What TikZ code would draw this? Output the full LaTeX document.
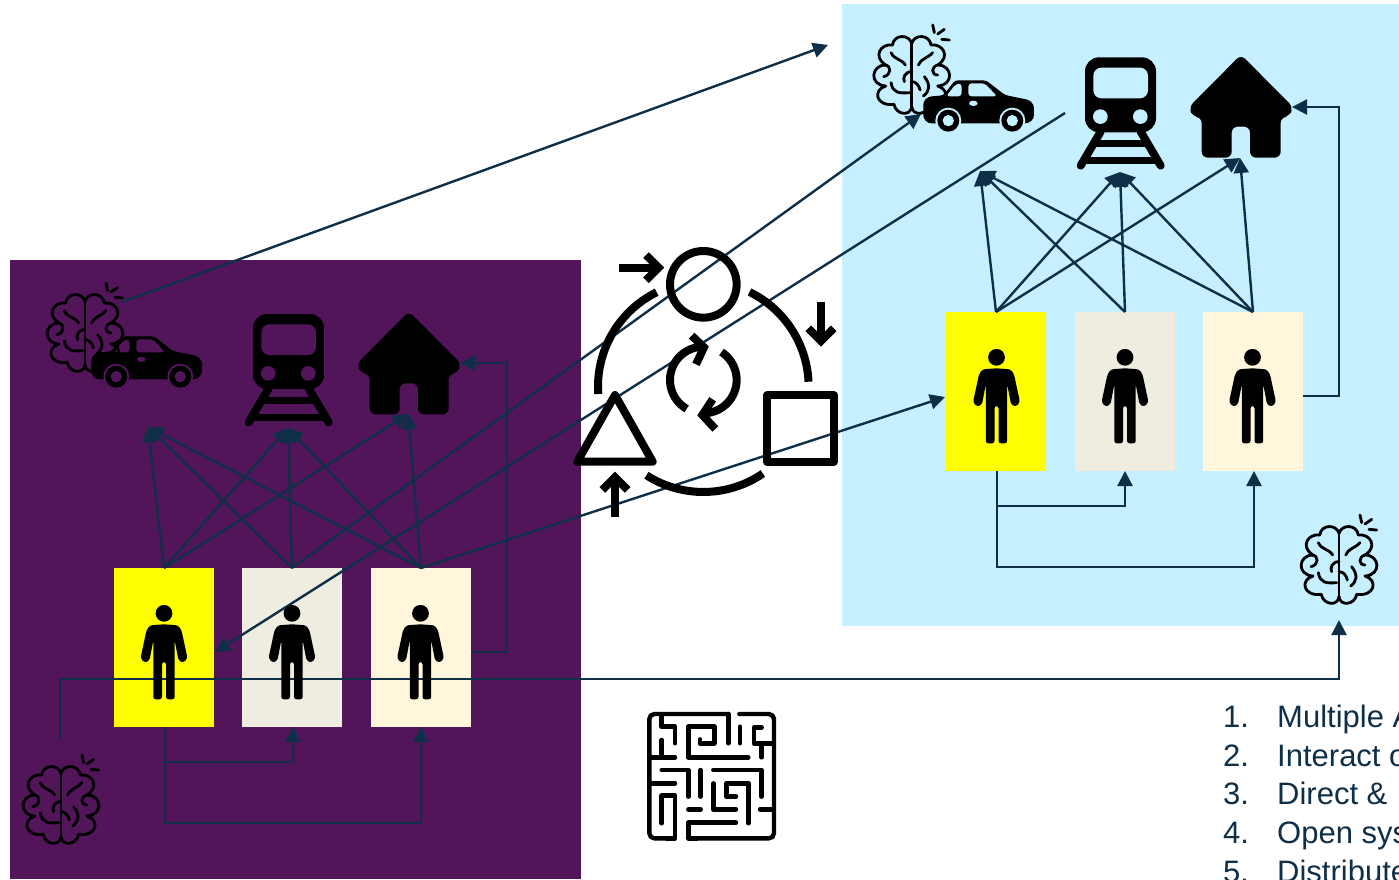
\documentclass[tikz,border=0pt]{standalone}
\usepackage{fontspec}
\setmainfont{Liberation Sans}
\usetikzlibrary{arrows.meta}
\definecolor{inkc}{HTML}{0E2F47}
\definecolor{txtc}{HTML}{0E2F47}
\definecolor{purp}{HTML}{52155A}
\definecolor{sky}{HTML}{C6EFFF}
\definecolor{yelc}{RGB}{255,255,0}
\definecolor{beigec}{HTML}{EFEDE0}
\definecolor{creamc}{HTML}{FFF6DC}
\colorlet{bgc}{sky}
\tikzset{
 conn/.style={draw=inkc,line width=2.4pt},
 arr/.style={conn,-{Triangle[width=15pt,length=15pt]}},
 tile/.style={minimum width=100pt,minimum height=159pt,inner sep=0pt,outer sep=0pt},
 lbl/.style={anchor=base west,inner sep=0pt,text=txtc,font=\fontsize{31}{38}\selectfont},
 brain/.pic={
  \begin{scope}[x=.3333pt,y=-.3333pt,line width=2.8pt,line cap=round,line join=round]
   \foreach \s in {1,-1}{
   \begin{scope}[xscale=\s]
    \draw (0,-80) .. controls (8,-108) and (53,-108) .. (58,-75)
      .. controls (93,-80) and (118,-40) .. (78,-15)
      .. controls (123,-15) and (128,45) .. (78,48)
      .. controls (118,60) and (108,110) .. (53,103)
      .. controls (48,135) and (3,140) .. (0,110);
   \end{scope}}
   \draw (0,-80) -- (0,110);
   \draw (20,-15) .. controls (28,-35) and (48,-35) .. (63,-52);
   \draw (78,-15) .. controls (58,-10) and (58,15) .. (78,15);
   \draw (38,20) .. controls (58,45) and (53,65) .. (35,78);
   \draw (-62,-52) .. controls (-52,-30) and (-32,-35) .. (-19,-15);
   \draw (-82,-15) .. controls (-60,-15) and (-60,15) .. (-84,20);
   \draw (-62,38) .. controls (-57,70) and (-37,70) .. (-7,68);
   \draw (0,5) .. controls (-22,5) and (-27,25) .. (-22,35);
   \draw (0,35) .. controls (12,35) and (22,45) .. (25,60);
   \draw (63,-135) -- (68,-112);
   \draw (78,-108) -- (98,-122);
   \draw (90,-92) -- (113,-90);
  \end{scope}},
 carpic/.pic={
  \begin{scope}[x=.3333pt,y=-.3333pt,shift={(-190,-180)}]
   \fill[even odd rule,rounded corners=3pt]
     (205,310) -- (190,295) -- (190,245) -- (205,230) -- (250,226) -- (285,181) -- (378,181)
     -- (435,225) -- (508,240) -- (522,255) -- (522,295) -- (505,310) -- cycle
     (258,229) -- (287,192) -- (305,190) -- (305,229) -- cycle
     (325,190) -- (375,190) -- (412,229) -- (325,229) -- cycle;
   \fill[bgc] (340,250) ellipse (13 and 8);
   \foreach \cx in {265,457}{
    \fill[bgc] (\cx,302) circle (39);
    \fill (\cx,302) circle (33);
    \fill[bgc] (\cx,302) circle (17);}
  \end{scope}},
 trainpic/.pic={
  \begin{scope}[x=.3333pt,y=-.3333pt,shift={(-675,-112)}]
   \fill[rounded corners=14pt] (675,337) -- (675,112) -- (888,112) -- (888,337) -- cycle;
   \fill[bgc,rounded corners=8pt] (700,235) -- (700,143) -- (864,143) -- (864,235) -- cycle;
   \fill[bgc] (721,290) circle (22) (841,290) circle (22);
   \draw[line width=8pt,line cap=round] (722,335) -- (662,437) (842,335) -- (902,437);
   \draw[line width=7pt] (705,372) -- (858,372);
   \draw[line width=7pt] (668,423) -- (896,423);
  \end{scope}},
 housepic/.pic={
  \begin{scope}[x=.3333pt,y=-.3333pt,shift={(-993,-112)}]
   \fill[rounded corners=6pt] (1143,104) -- (1300,262) -- (1287,291) -- (1262,291) -- (1262,413) -- (1170,413)
     -- (1170,320) -- (1115,320) -- (1115,413) -- (1025,413) -- (1025,291) -- (999,291) -- (986,262) -- cycle;
  \end{scope}},
 personpic/.pic={
  \fill (0,0) circle (8.4);
  \fill[rounded corners=2.5pt] (0,11) -- (14,12) -- (17.5,17) -- (23.5,45) -- (19,49.5) -- (14.5,47) -- (10.7,27) -- (10.7,86)
   -- (2,86) -- (2,48.7) -- (-2,48.7) -- (-2,86) -- (-10.7,86) -- (-10.7,27) -- (-14.5,47) -- (-19,49.5) -- (-23.5,45) -- (-17.5,17) -- (-14,12) -- cycle;
 },
 cyclepic/.pic={
  \begin{scope}[x=.3333pt,y=-.3333pt,line width=8pt]
   \draw (400,163) circle (100);
   \draw[line join=round] (592,495) rectangle (791,695);
   \draw[line join=round] (135,495) -- (248,695) -- (22,695) -- cycle;
   \draw (400,470) ++(-64:316) arc[start angle=-64,end angle=-2.7,radius=316];
   \draw (400,470) ++(-116.3:316) arc[start angle=-116.3,end angle=-184,radius=316];
   \draw (400,470) ++(122.7:316) arc[start angle=122.7,end angle=55.6,radius=316];
   \draw (148,113) -- (255,113);
   \draw (228,75) -- (266,113) -- (228,151);
   \draw (753,215) -- (753,325);
   \draw (715,295) -- (753,333) -- (791,295);
   \draw (135,860) -- (135,750);
   \draw (97,780) -- (135,742) -- (173,780);
   \draw (400,450) ++(120:100) arc[start angle=120,end angle=268,radius=100];
   \draw (365,317) -- (402,352) -- (378,403);
   \draw (400,450) ++(-57:100) arc[start angle=-57,end angle=92,radius=100];
   \draw (428,508) -- (397,555) -- (436,597);
  \end{scope}},
 mazepic/.pic={
  \begin{scope}[x=.3333pt,y=-.3333pt,line width=4.4pt,line cap=round,line join=round]
   \draw[rounded corners=5pt] (295,42) -- (58,42) -- (58,415) -- (110,415);
   \draw (110,415) -- (135,415) -- (135,287) -- (95,287) -- (95,370);
   \draw[rounded corners=5pt] (328,42) -- (432,42) -- (432,415) -- (200,415);
   \draw (200,415) -- (175,415) -- (175,368) -- (318,368);
   \draw (95,42) -- (95,80) -- (135,80) -- (135,130);
   \draw (95,120) -- (95,172) (58,172) -- (135,172);
   \draw (355,172) -- (175,172) -- (175,80) -- (253,80) -- (253,130) -- (210,130) -- (210,118);
   \draw (295,42) -- (295,130) (330,80) -- (330,130);
   \draw (395,82) -- (372,82) -- (372,130) -- (432,130) (395,130) -- (395,172);
   \draw (95,210) -- (175,210) -- (175,290) (58,250) -- (135,250);
   \draw (212,210) -- (212,290);
   \draw (395,290) -- (395,210) -- (250,210);
   \draw (250,250) -- (250,328) -- (318,328);
   \draw (355,370) -- (355,250) -- (290,250) -- (290,290) -- (318,290);
   \draw (175,328) -- (212,328) (390,328) -- (432,328);
  \end{scope}}
}
\begin{document}
\begin{tikzpicture}[x=1pt,y=-1pt]
\useasboundingbox (0,0) rectangle (1399,879);
\clip (0,0) rectangle (1399,879);
% panels
\fill[purp] (10,260) rectangle (581,879);
\fill[sky] (842,4) rectangle (1399,626);
% tiles
\node[tile,fill=yelc] (ly) at (164,647.5) {};
\node[tile,fill=beigec] (lb) at (292,647.5) {};
\node[tile,fill=creamc] (lc) at (421,647.5) {};
\node[tile,fill=yelc] (ry) at (996,391.5) {};
\node[tile,fill=beigec] (rb) at (1125,391.5) {};
\node[tile,fill=creamc] (rc) at (1253,391.5) {};
% anchors
\coordinate (lcar) at (148,427); \coordinate (ltrain) at (288,428); \coordinate (lhouse) at (408,414);
\coordinate (rcar) at (980,171); \coordinate (rtrain) at (1120,172); \coordinate (rhouse) at (1240,158);
\coordinate (lout) at (471,652); \coordinate (lturn) at (507,363); \coordinate (lin) at (460,363);
\coordinate (rout) at (1303,396); \coordinate (rturn) at (1339,107); \coordinate (rin) at (1292,107);
\coordinate (ld1) at (293,762); \coordinate (ld2) at (421,823);
\coordinate (rd1) at (1125,506); \coordinate (rd2) at (1254,567);
\coordinate (bs) at (60,740); \coordinate (bm) at (60,679); \coordinate (be) at (1339,620);
\coordinate (topa) at (122,302); \coordinate (topb) at (828,45);
\coordinate (carin) at (921,114);
\coordinate (xs) at (1065,113); \coordinate (xe) at (215,652);
\coordinate (pe) at (945,397);
% connectors inside panels
\foreach \a/\b in {ly/lcar,ly/ltrain,ly/lhouse,lb/lcar,lb/ltrain,lc/lcar,lc/ltrain,lc/lhouse,
                   ry/rcar,ry/rtrain,ry/rhouse,rb/rcar,rb/rtrain,rc/rcar,rc/rtrain,rc/rhouse}
  \draw[arr] (\a.north) -- (\b);
\draw[arr] (lout) -| (lturn) -- (lin);
\draw[arr] (rout) -| (rturn) -- (rin);
\draw[arr] ([xshift=1pt]ly.south) |- (ld1) -- ([xshift=1pt]lb.south);
\draw[arr] ([xshift=1pt]ly.south) |- (ld2) -- (lc.south);
\draw[arr] ([xshift=1pt]ry.south) |- (rd1) -- (rb.south);
\draw[arr] ([xshift=1pt]ry.south) |- (rd2) -- ([xshift=1pt]rc.south);
% long connectors
\draw[arr] (bs) -- (bm) -| (be);
\draw[arr] (topa) -- (topb);
\draw[arr] (lb.north) -- (carin);
\draw[arr] (xs) -- (xe);
\draw[arr] (lc.north) -- (pe);
% icons, left
\colorlet{bgc}{purp}
\pic at (85,328) {brain};
\pic at (61,800) {brain};
\pic at (91.3,336) {carpic};
\pic at (253,314) {trainpic};
\pic at (359,314) {housepic};
\colorlet{bgc}{sky}
\pic at (1339,560) {brain};
\pic at (911.7,70) {brain};
\pic at (923.3,80) {carpic};
\pic at (1085,57.3) {trainpic};
\pic at (1191,57.3) {housepic};
\pic at (164,613.3) {personpic};
\pic at (292,613.3) {personpic};
\pic at (420.5,613.3) {personpic};
\pic at (996.5,357.3) {personpic};
\pic at (1125,357.3) {personpic};
\pic at (1252.5,357.3) {personpic};
\pic at (570,230) {cyclepic};
\pic at (630,700) {mazepic};
% list
\node[lbl] (n1) at (1223,727) {1.}; \node[lbl] (t1) at (1277,727) {Multiple A};
\node[lbl] (n2) at (1223,766) {2.}; \node[lbl] (t2) at (1277,766) {Interact o};
\node[lbl] (n3) at (1223,804) {3.}; \node[lbl] (t3) at (1277,804) {Direct \&};
\node[lbl] (n4) at (1223,843) {4.}; \node[lbl] (t4) at (1277,843) {Open sys};
\node[lbl] (n5) at (1223,882) {5.}; \node[lbl] (t5) at (1277,882) {Distribute};
\end{tikzpicture}
\end{document}
